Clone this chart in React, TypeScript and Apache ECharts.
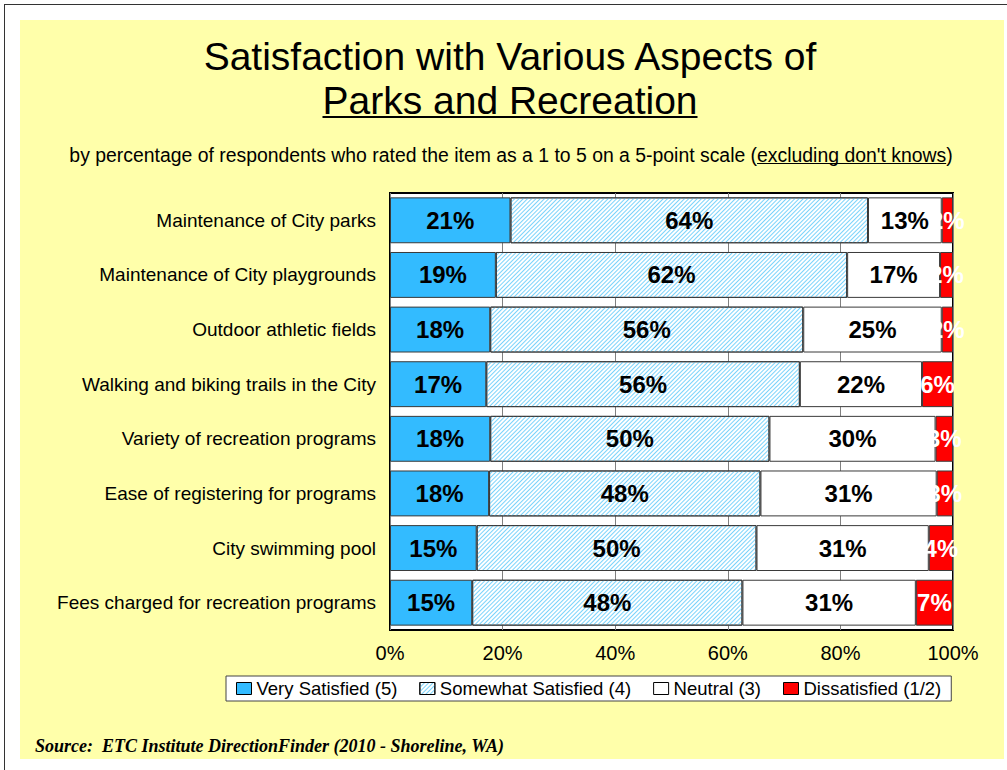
import React, { useEffect, useRef } from "react";
import * as echarts from "echarts";

const categories = [
  "Maintenance of City parks",
  "Maintenance of City playgrounds",
  "Outdoor athletic fields",
  "Walking and biking trails in the City",
  "Variety of recreation programs",
  "Ease of registering for programs",
  "City swimming pool",
  "Fees charged for recreation programs",
];
const verySatisfied = [21.4, 18.8, 17.8, 17.1, 17.8, 17.6, 15.4, 14.6];
const somewhatSatisfied = [63.5, 62.4, 55.6, 55.7, 49.6, 48.2, 49.7, 48.0];
const neutral = [13.1, 16.5, 24.6, 21.7, 29.5, 31.3, 30.6, 30.8];
const dissatisfied = [2.0, 2.3, 2.0, 5.5, 3.1, 2.9, 4.3, 6.6];
const seriesNames = ["Very Satisfied (5)", "Somewhat Satisfied (4)", "Neutral (3)", "Dissatisfied (1/2)"];
const xTicks = [0, 20, 40, 60, 80, 100];

const TITLE1 = "Satisfaction with Various Aspects of";
const TITLE2 = "Parks and Recreation";
const SUB_PRE = "by percentage of respondents who rated the item as a 1 to 5 on a 5-point scale (";
const SUB_U = "excluding don't knows";
const SUB_POST = ")";
const SOURCE = "Source:  ETC Institute DirectionFinder (2010 - Shoreline, WA)";

const SANS = '"Liberation Sans", Arial, sans-serif';

function measure(text: string, font: string) {
  const c = document.createElement("canvas").getContext("2d")!;
  c.font = font;
  return c.measureText(text).width;
}

export default function App() {
  const ref = useRef<HTMLDivElement>(null);
  useEffect(() => {
    document.body.style.margin = "0";
    const chart = echarts.init(ref.current!, undefined, { renderer: "svg" });

    const titleFont = `39px ${SANS}`;
    const t2w = measure(TITLE2, titleFont);
    const subFont = `19.4px ${SANS}`;
    const subFull = SUB_PRE + SUB_U + SUB_POST;
    const subW = measure(subFull, subFont);
    const subPreW = measure(SUB_PRE, subFont);
    const subUW = measure(SUB_U, subFont);
    const titleCx = 510;
    const subCx = 511;

    const label = (color: string) => ({
      show: true,
      position: "inside",
      formatter: (p: any) => Math.round(p.value) + "%",
      fontSize: 24,
      fontWeight: "bold",
      fontFamily: SANS,
      color,
    });
    const border = { borderColor: "#3a3a3a", borderWidth: 1 };

    chart.setOption({
      animation: false,
      backgroundColor: "transparent",
      textStyle: { fontFamily: SANS },
      grid: {
        left: 390,
        right: 54,
        top: 193,
        bottom: 140,
        show: true,
        backgroundColor: "#ffffff",
        borderColor: "#000000",
        borderWidth: 2,
        containLabel: false,
      },
      xAxis: {
        type: "value",
        min: 0,
        max: 100,
        interval: 20,
        axisLabel: {
          formatter: (v: number) => (xTicks.includes(v) ? v + "%" : ""),
          fontSize: 20,
          color: "#000",
          margin: 13,
        },
        axisLine: { show: false },
        axisTick: { show: false },
        splitLine: { show: true, lineStyle: { color: "#808080", width: 1 } },
      },
      yAxis: {
        type: "category",
        data: categories,
        inverse: true,
        axisLabel: { fontSize: 19, color: "#000", margin: 14 },
        axisLine: { show: false },
        axisTick: { show: false },
      },
      legend: {
        data: seriesNames,
        left: 226,
        top: 676,
        orient: "horizontal",
        icon: "rect",
        backgroundColor: "#ffffff",
        borderColor: "#444",
        borderWidth: 1,
        padding: [3, 10],
        itemWidth: 15,
        itemHeight: 12,
        itemGap: 22,
        textStyle: { fontSize: 18.5, color: "#000", fontFamily: SANS },
        itemStyle: { borderColor: "#000", borderWidth: 1 },
      },
      series: [
        {
          name: seriesNames[0],
          type: "bar",
          stack: "total",
          barWidth: "84%",
          data: verySatisfied,
          itemStyle: { color: "#33BBFF", ...border },
          label: label("#000"),
        },
        {
          name: seriesNames[1],
          type: "bar",
          stack: "total",
          data: somewhatSatisfied,
          itemStyle: {
            color: "#ffffff",
            ...border,
            decal: {
              symbol: "rect",
              symbolSize: 1,
              color: "#7AD3FB",
              backgroundColor: "#ffffff",
              dashArrayX: [1, 0],
              dashArrayY: [1, 2],
              rotation: -Math.PI / 4,
            },
          },
          label: label("#000"),
        },
        {
          name: seriesNames[2],
          type: "bar",
          stack: "total",
          data: neutral,
          itemStyle: { color: "#ffffff", ...border },
          label: label("#000"),
        },
        {
          name: seriesNames[3],
          type: "bar",
          stack: "total",
          data: dissatisfied,
          itemStyle: { color: "#FF0000", ...border },
          label: label("#ffffff"),
        },
      ],
      graphic: [
        {
          type: "text",
          x: titleCx,
          y: 56,
          style: { text: TITLE1, font: titleFont, fill: "#000", textAlign: "center", textVerticalAlign: "middle" },
        },
        {
          type: "text",
          x: titleCx,
          y: 100,
          style: { text: TITLE2, font: titleFont, fill: "#000", textAlign: "center", textVerticalAlign: "middle" },
        },
        {
          type: "line",
          shape: { x1: titleCx - t2w / 2, y1: 117, x2: titleCx + t2w / 2, y2: 117 },
          style: { stroke: "#000", lineWidth: 2 },
        },
        {
          type: "text",
          x: subCx,
          y: 155,
          style: { text: subFull, font: subFont, fill: "#000", textAlign: "center", textVerticalAlign: "middle" },
        },
        {
          type: "line",
          shape: {
            x1: subCx - subW / 2 + subPreW,
            y1: 163.5,
            x2: subCx - subW / 2 + subPreW + subUW,
            y2: 163.5,
          },
          style: { stroke: "#000", lineWidth: 1 },
        },
        {
          type: "text",
          x: 35,
          y: 746,
          style: {
            text: SOURCE,
            font: `italic bold 18px "Liberation Serif", "Times New Roman", serif`,
            fill: "#000",
            textAlign: "left",
            textVerticalAlign: "middle",
          },
        },
      ],
    });
    return () => chart.dispose();
  }, []);

  return (
    <div style={{ position: "fixed", left: 0, top: 0, width: 1007, height: 770, background: "#ffffff", overflow: "hidden" }}>
      <div style={{ position: "absolute", left: 4, top: 4, width: 1100, height: 900, borderLeft: "1.5px solid #333", borderTop: "1.5px solid #333" }} />
      <div style={{ position: "absolute", left: 20, top: 20, width: 984, height: 739, background: "#FFFFAA" }} />
      <div ref={ref} style={{ position: "absolute", left: 0, top: 0, width: 1007, height: 770 }} />
    </div>
  );
}
